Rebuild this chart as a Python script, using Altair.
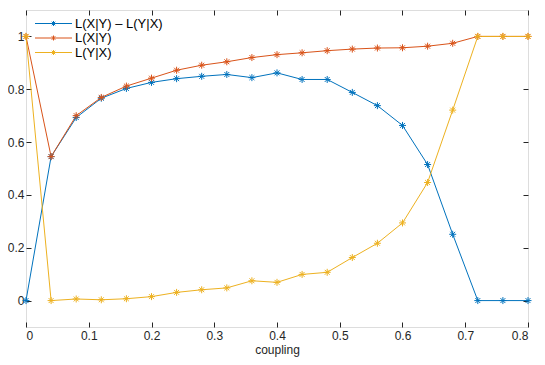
import altair as alt
import pandas as pd

coupling = [0.0, 0.04, 0.08, 0.12, 0.16, 0.20, 0.24, 0.28, 0.32, 0.36, 0.40,
            0.44, 0.48, 0.52, 0.56, 0.60, 0.64, 0.68, 0.72, 0.76, 0.80]
l_diff = [0.0, 0.545, 0.693, 0.766, 0.803, 0.826, 0.840, 0.849, 0.856, 0.844, 0.862,
          0.837, 0.837, 0.788, 0.738, 0.663, 0.515, 0.251, 0.0, 0.0, 0.0]
l_xy = [1.0, 0.545, 0.700, 0.769, 0.812, 0.842, 0.872, 0.891, 0.904, 0.920, 0.931,
        0.938, 0.946, 0.952, 0.956, 0.957, 0.963, 0.974, 1.0, 1.0, 1.0]
l_yx = [1.0, 0.0, 0.006, 0.003, 0.007, 0.015, 0.031, 0.041, 0.048, 0.075, 0.069,
        0.099, 0.107, 0.163, 0.217, 0.294, 0.447, 0.721, 1.0, 1.0, 1.0]

series_names = ["L(X|Y) – L(Y|X)", "L(X|Y)", "L(Y|X)"]
series_colors = ["#0072BD", "#D95319", "#EDB120"]
x_ticks = [0, 0.1, 0.2, 0.3, 0.4, 0.5, 0.6, 0.7, 0.8]
y_ticks = [0, 0.2, 0.4, 0.6, 0.8, 1.0]

rows = []
for name, vals in zip(series_names, [l_diff, l_xy, l_yx]):
    for i, (xv, yv) in enumerate(zip(coupling, vals)):
        rows.append({"coupling": xv, "value": yv, "series": name, "idx": i})
df = pd.DataFrame(rows)

FONT = "Liberation Sans"
INK = "#262626"
ASTER = "M-1,0H1M0,-1V1M-0.7,-0.7L0.7,0.7M-0.7,0.7L0.7,-0.7"
LEG = "M-6.75,0H6.75M0,-0.91V0.91M-0.65,-0.65L0.65,0.65M-0.65,0.65L0.65,-0.65"

xscale = alt.Scale(domain=[0, 0.8], nice=False, zero=False)
yscale = alt.Scale(domain=[-0.1, 1.1], nice=False, zero=False)

common = dict(domain=False, grid=False, ticks=True, tickSize=5, offset=-5,
              tickColor=INK, tickWidth=1, labelFont=FONT, labelFontSize=12,
              labelColor=INK, format=".1~f")

x_axis = alt.Axis(values=x_ticks, orient="bottom", labelPadding=3, title="coupling",
                  titleFont=FONT, titleFontSize=12, titleFontWeight="normal",
                  titleColor=INK, titlePadding=3, **common)
y_axis = alt.Axis(values=y_ticks, orient="left", labelPadding=2, title=None, **common)
x_top = alt.Axis(values=x_ticks, orient="top", labels=False, title=None, **common)
y_right = alt.Axis(values=y_ticks, orient="right", labels=False, title=None, **common)

color = alt.Color("series:N",
                  scale=alt.Scale(domain=series_names, range=series_colors),
                  legend=alt.Legend(orient="none", legendX=21, legendY=7, title=None,
                                    symbolType=LEG, symbolSize=30, symbolStrokeWidth=1,
                                    symbolFillColor="transparent",
                                    labelFont=FONT, labelFontSize=13, labelColor="black",
                                    labelOffset=15, rowPadding=0.5, padding=0))

lines = alt.Chart(df).mark_line(strokeWidth=1).encode(
    x=alt.X("coupling:Q", scale=xscale, axis=x_axis),
    y=alt.Y("value:Q", scale=yscale, axis=y_axis),
    color=color,
    order="idx:Q",
)
points = alt.Chart(df).mark_point(shape=ASTER, filled=False, size=49, strokeWidth=1, opacity=1).encode(
    x=alt.X("coupling:Q", scale=xscale, axis=None),
    y=alt.Y("value:Q", scale=yscale, axis=None),
    color=color,
)
frame = alt.Chart(df).mark_point(opacity=0).encode(
    x=alt.X("coupling:Q", scale=xscale, axis=x_top),
    y=alt.Y("value:Q", scale=yscale, axis=y_right),
)

chart = alt.layer(lines, points, frame).resolve_axis(
    x="independent", y="independent"
).properties(
    width=502, height=317,
    autosize=alt.AutoSizeParams(type="none"),
    padding={"left": 18, "top": 2, "right": 9, "bottom": 30},
).configure_view(stroke=INK, strokeWidth=1).configure(background="white")

chart.save("out.html", embed_options={"renderer": "svg", "actions": False})
